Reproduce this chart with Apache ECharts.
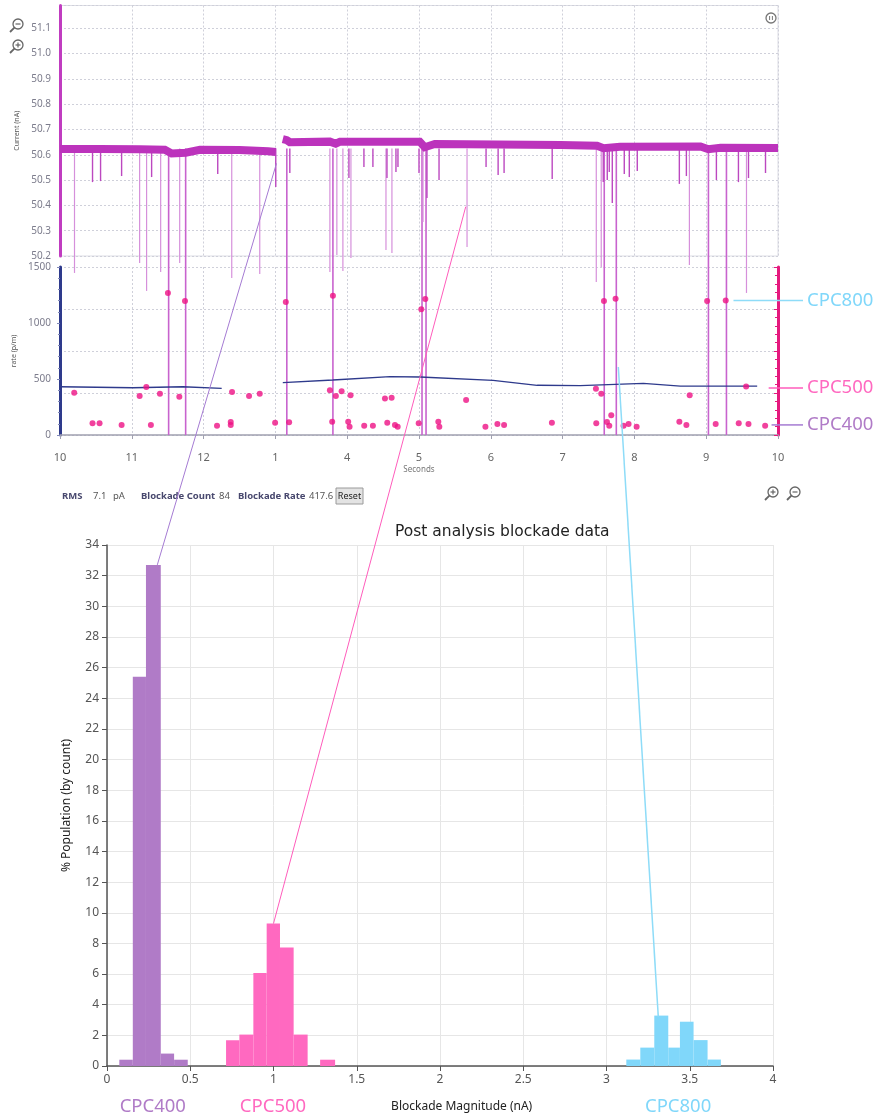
<!DOCTYPE html>
<html>
<head>
<meta charset="utf-8">
<script src="https://cdn.jsdelivr.net/npm/echarts/dist/echarts.min.js"></script>
<style>
  html, body { margin: 0; padding: 0; background: #fff; }
  #chart { width: 887px; height: 1119px; }
</style>
</head>
<body>
<div id="chart"></div>
<script>
// x axis of the trace / rate panels, labels as printed by the instrument
const timeLabels = ['10', '11', '12', '1', '4', '5', '6', '7', '8', '9', '10'];

// open-pore current (nA), null splits the two recordings
const baseTime = [0, 0.55, 1.11, 1.46, 1.555, 1.75, 1.95, 2.5, 2.9, 3.005, null,
  3.103, 3.159, 3.2, 3.76, 3.84, 3.9, 5.01, 5.08, 5.22, 6.97, 7.48, 7.57, 7.8, 8.92, 9.03, 9.2, 10];
const baseCurrent = [50.623, 50.623, 50.622, 50.62, 50.605, 50.608, 50.62, 50.619, 50.614, 50.611, null,
  50.662, 50.658, 50.65, 50.652, 50.644, 50.652, 50.652, 50.63, 50.643, 50.639, 50.636, 50.626, 50.632, 50.633, 50.622, 50.628, 50.627];

// blockade spikes: time and lowest current reached (nA)
const spikeTime = [0.202, 0.453, 0.565, 0.858, 1.109, 1.206, 1.276, 1.402, 1.667, 2.197, 2.392, 2.782, 3.005,
  3.201, 3.759, 3.856, 3.94, 4.024, 4.052, 4.233, 4.358, 4.54, 4.554, 4.623, 4.679, 4.707, 5.0, 5.056, 5.111,
  5.279, 5.669, 5.934, 6.102, 6.185, 6.855, 7.469, 7.538, 7.566, 7.622, 7.65, 7.692, 7.859, 7.929, 8.04,
  8.626, 8.724, 8.766, 9.142, 9.449, 9.561, 9.589, 9.826];
const spikeLow = [50.133, 50.492, 50.496, 50.516, 50.172, 50.062, 50.512, 50.137, 50.172, 50.524, 50.113, 50.129, 50.473,
  50.528, 50.137, 50.204, 50.141, 50.508, 50.192, 50.552, 50.552, 50.224, 50.508, 50.212, 50.532, 50.552, 50.528, 50.334, 50.429,
  50.5, 50.236, 50.552, 50.52, 50.528, 50.504, 50.097, 50.157, 50.492, 50.5, 50.532, 50.409, 50.524, 50.512, 50.536,
  50.485, 50.516, 50.164, 50.5, 50.492, 50.054, 50.508, 50.528];

// long events that run through both panels
const eventTime = [1.513, 1.75, 3.159, 3.801, 5.042, 5.098, 7.58, 7.748, 9.031, 9.282];

// rate panel (p/m)
const rateTime = [0.198, 0.453, 0.551, 0.858, 1.109, 1.202, 1.266, 1.392, 1.503, 1.662, 1.741, 2.187, 2.378, 2.378,
  2.396, 2.633, 2.782, 2.996, 3.145, 3.191, 3.759, 3.791, 3.801, 3.842, 3.922, 4.014, 4.033, 4.047, 4.237, 4.358,
  4.526, 4.558, 4.619, 4.665, 4.703, 4.996, 5.032, 5.088, 5.269, 5.283, 5.656, 5.925, 6.092, 6.185, 6.851, 7.464,
  7.469, 7.538, 7.576, 7.618, 7.65, 7.678, 7.738, 7.849, 7.919, 8.031, 8.626, 8.724, 8.77, 9.013, 9.132, 9.272,
  9.453, 9.556, 9.589, 9.821];
const rateValue = [378, 104, 104, 89, 348, 429, 89, 369, 1268, 342, 1196, 83, 116, 89,
  384, 348, 369, 110, 1187, 113, 399, 119, 1244, 348, 390, 119, 74, 354, 83, 83,
  327, 110, 333, 89, 74, 104, 1122, 1214, 119, 74, 312, 74, 98, 89, 110, 413,
  104, 369, 1196, 116, 83, 176, 1217, 83, 98, 74, 119, 89, 354, 1196, 98, 1202,
  104, 434, 98, 83];
const avgTime = [0, 1.016, 1.709, 2.252, null, 3.103, 3.801, 4.596, 5.014, 6.032, 6.646, 7.246, 8.124, 8.64, 9.71];
const avgRate = [431, 422, 431, 417, null, 467, 491, 521, 518, 488, 444, 440, 461, 437, 437];

// histogram: bin edges (nA) and % population per bin
const cpc400Edges = [0.074, 0.155, 0.234, 0.323, 0.403, 0.485];
const cpc400Pct = [0.41, 25.4, 32.7, 0.81, 0.41];
const cpc500Edges = [0.715, 0.795, 0.879, 0.959, 1.039, 1.121, 1.205, 1.28, 1.37];
const cpc500Pct = [1.68, 2.05, 6.07, 9.3, 7.73, 2.05, 0, 0.41];
const cpc800Edges = [3.119, 3.203, 3.287, 3.371, 3.441, 3.523, 3.607, 3.687];
const cpc800Pct = [0.42, 1.2, 3.29, 1.2, 2.89, 1.69, 0.42];

// annotation anchors
const peakAnchor = [[0.302, 32.7], [1.0, 9.3], [3.311, 3.22]];
const traceAnchor = [[3.015, 50.566], [5.651, 50.395]];
const rateAnchor = [7.776, 607];
const tagRate = [1200, 420, 90];
const tagStart = [9.38, 9.87, 9.91];
const groupCenter = [0.275, 0.997, 3.43];
const groupNames = ['CPC400', 'CPC500', 'CPC800'];

const TRACE_LEVEL = 50.625;
const GAP_LOW = 50.155;
const purple = '#B07BC7', pink = '#FF69C0', cyan = '#80D7FA';
const FONT = 'Noto Sans';

const chart = echarts.init(document.getElementById('chart'));

const pair = (xs, ys) => xs.map((x, i) => (x === null ? [null, null] : [x, ys[i]]));
const bins = (edges, pct) => pct.map((p, i) => [edges[i], edges[i + 1], p]);

function vline(p0, p1, color, w) {
  return { type: 'line', shape: { x1: p0[0], y1: p0[1], x2: p1[0], y2: p1[1] }, style: { stroke: color, lineWidth: w } };
}

function binRender(color) {
  return (params, api) => {
    const a = api.coord([api.value(0), api.value(2)]);
    const b = api.coord([api.value(1), 0]);
    return { type: 'rect', shape: { x: a[0], y: a[1], width: b[0] - a[0], height: b[1] - a[1] }, style: { fill: color } };
  };
}

const dotted = { lineStyle: { color: '#cfd0da', type: [2, 2], width: 1 } };

const option = {
  animation: false,
  textStyle: { fontFamily: FONT },
  title: {
    text: 'Post analysis blockade data',
    left: 390, top: 519,
    textStyle: { fontSize: 15.5, fontWeight: 'normal', color: '#222', fontFamily: 'DejaVu Sans' }
  },
  grid: [
    { left: 60, top: 5.5, width: 718, height: 250.5, show: true, borderColor: '#dcdde4', borderWidth: 1 },
    { left: 60, top: 267, width: 718, height: 168 },
    { left: 107, top: 545, width: 666, height: 521 }
  ],
  xAxis: [
    {
      gridIndex: 0, type: 'value', min: 0, max: 10, interval: 1,
      axisLine: { show: false }, axisTick: { show: false }, axisLabel: { show: false },
      splitLine: dotted
    },
    {
      gridIndex: 1, type: 'value', min: 0, max: 10, interval: 1, offset: 8,
      axisLine: { lineStyle: { color: '#a0a0b0', width: 1.5 } },
      axisTick: { show: true, length: 4, lineStyle: { color: '#a0a0b0' } },
      axisLabel: { color: '#666', fontSize: 11, margin: 9, formatter: v => timeLabels[Math.round(v)] },
      splitLine: dotted,
      name: 'Seconds', nameLocation: 'middle', nameGap: 23,
      nameTextStyle: { fontSize: 8, color: '#777' }
    },
    {
      gridIndex: 2, type: 'value', min: 0, max: 4, interval: 0.5,
      axisLine: { lineStyle: { color: '#555', width: 1.5 } },
      axisTick: { show: true, length: 5, lineStyle: { color: '#555' } },
      axisLabel: { color: '#555', fontSize: 12, margin: 8 },
      splitLine: { lineStyle: { color: '#e6e6e6' } }
    }
  ],
  yAxis: [
    {
      gridIndex: 0, type: 'value', min: 50.2, max: 51.19, interval: 0.1,
      axisLine: { show: true, lineStyle: { color: '#C03CC0', width: 3 } },
      axisTick: { show: false },
      axisLabel: { color: '#7c7c8c', fontSize: 10, margin: 9, showMaxLabel: false, formatter: v => v.toFixed(1) },
      splitLine: dotted,
      name: 'Current (nA)', nameLocation: 'middle', nameGap: 37,
      nameTextStyle: { fontSize: 7, color: '#555' }
    },
    {
      gridIndex: 1, type: 'value', min: 0, max: 1500, interval: 500,
      axisLine: { show: true, lineStyle: { color: '#2E3A8C', width: 3 } },
      axisTick: { show: true, length: 3, lineStyle: { color: '#8088b8' } },
      minorTick: { show: true, splitNumber: 5, length: 2, lineStyle: { color: '#8088b8' } },
      axisLabel: { color: '#7c7c8c', fontSize: 10, margin: 9, formatter: v => String(v) },
      splitLine: { show: false },
      name: 'rate (p/m)', nameLocation: 'middle', nameGap: 37,
      nameTextStyle: { fontSize: 7, color: '#555' }
    },
    {
      gridIndex: 1, type: 'value', position: 'right', min: 0, max: 1500, interval: 375,
      axisLine: { show: true, lineStyle: { color: '#E5197E', width: 3 } },
      axisTick: { show: true, inside: true, length: 4, lineStyle: { color: '#E5197E' } },
      minorTick: { show: true, splitNumber: 5, length: 3, lineStyle: { color: '#E5197E' } },
      axisLabel: { show: false },
      splitLine: dotted
    },
    {
      gridIndex: 2, type: 'value', min: 0, max: 34, interval: 2,
      axisLine: { show: true, lineStyle: { color: '#555', width: 1.5 } },
      axisTick: { show: true, length: 5, lineStyle: { color: '#555' } },
      axisLabel: { color: '#555', fontSize: 12, margin: 8 },
      splitLine: { lineStyle: { color: '#e6e6e6' } },
      name: '% Population (by count)', nameLocation: 'middle', nameGap: 34,
      nameTextStyle: { fontSize: 12, color: '#222' }
    }
  ],
  series: [
    {
      // 0: long events, upper part
      type: 'custom', xAxisIndex: 0, yAxisIndex: 0, clip: false, z: 2,
      data: eventTime.map(t => [t, GAP_LOW]),
      renderItem: (p, api) => vline(api.coord([api.value(0), TRACE_LEVEL]), api.coord([api.value(0), api.value(1)]), '#C863CE', 1.6)
    },
    {
      // 1: spikes
      type: 'custom', xAxisIndex: 0, yAxisIndex: 0, clip: false, z: 2,
      data: pair(spikeTime, spikeLow),
      renderItem: (p, api) => {
        const low = api.value(1);
        const deep = low < 50.4;
        return vline(api.coord([api.value(0), TRACE_LEVEL]), api.coord([api.value(0), low]),
          deep ? '#D690DB' : '#BC48C0', deep ? 1.2 : 1.4);
      }
    },
    {
      // 2: baseline current band
      type: 'line', xAxisIndex: 0, yAxisIndex: 0, z: 3,
      data: pair(baseTime, baseCurrent),
      showSymbol: false, connectNulls: false,
      lineStyle: { color: '#BC33BC', width: 8, join: 'miter' }
    },
    {
      // 3: long events, rate panel
      type: 'custom', xAxisIndex: 1, yAxisIndex: 1, z: 2,
      data: eventTime.map(t => [t, 1500]),
      renderItem: (p, api) => vline(api.coord([api.value(0), api.value(1)]), api.coord([api.value(0), 0]), '#C863CE', 1.6)
    },
    {
      // 4: rolling rate
      type: 'line', xAxisIndex: 1, yAxisIndex: 1, z: 3,
      data: pair(avgTime, avgRate),
      showSymbol: false, connectNulls: false,
      lineStyle: { color: '#2E3A8C', width: 1.3 }
    },
    {
      // 5: event rate points
      type: 'scatter', xAxisIndex: 1, yAxisIndex: 1, z: 4,
      data: pair(rateTime, rateValue),
      symbolSize: 6,
      itemStyle: { color: '#EE1285' }
    },
    {
      type: 'custom', xAxisIndex: 2, yAxisIndex: 3,
      data: bins(cpc400Edges, cpc400Pct), renderItem: binRender(purple)
    },
    {
      type: 'custom', xAxisIndex: 2, yAxisIndex: 3,
      data: bins(cpc500Edges, cpc500Pct), renderItem: binRender(pink)
    },
    {
      // 8
      type: 'custom', xAxisIndex: 2, yAxisIndex: 3,
      data: bins(cpc800Edges, cpc800Pct), renderItem: binRender(cyan)
    }
  ]
};

chart.setOption(option);

// annotations placed from the axes' own scales
const toTrace = pt => chart.convertToPixel({ seriesIndex: 2 }, pt);
const toRate = pt => chart.convertToPixel({ seriesIndex: 5 }, pt);
const toHist = pt => chart.convertToPixel({ seriesIndex: 8 }, pt);

const groupColors = [purple, pink, cyan];
const linkColors = ['#A57BD3', '#FF5CBB', '#8EDCF8'];
const graphics = [];

const ends = [toTrace(traceAnchor[0]), toTrace(traceAnchor[1]), toRate(rateAnchor)];
peakAnchor.forEach((pk, i) => {
  const a = toHist(pk);
  graphics.push({
    type: 'line', z: 100,
    shape: { x1: a[0], y1: a[1], x2: ends[i][0], y2: ends[i][1] },
    style: { stroke: linkColors[i], lineWidth: i === 2 ? 1.5 : 1 }
  });
});

// right-hand tags
const tagOrder = [2, 1, 0];
const rightEdge = toRate([10, 0])[0];
tagRate.forEach((r, i) => {
  const g = tagOrder[i];
  const s = toRate([tagStart[i], r]);
  graphics.push({
    type: 'line', z: 100,
    shape: { x1: s[0], y1: s[1], x2: rightEdge + 25, y2: s[1] },
    style: { stroke: linkColors[g], lineWidth: 1.5 }
  });
  graphics.push({
    type: 'text', z: 100, x: rightEdge + 29, y: s[1],
    style: { text: groupNames[g], fill: groupColors[g], font: '18.5px "' + FONT + '"', textVerticalAlign: 'middle' }
  });
});

// labels under the histogram
groupCenter.forEach((c, i) => {
  const p = toHist([c, 0]);
  graphics.push({
    type: 'text', x: p[0], y: p[1] + 41,
    style: { text: groupNames[i], fill: groupColors[i], font: '18.5px "' + FONT + '"', textAlign: 'center', textVerticalAlign: 'middle' }
  });
});
const xName = toHist([2.13, 0]);
graphics.push({
  type: 'text', x: xName[0], y: xName[1] + 41,
  style: { text: 'Blockade Magnitude (nA)', fill: '#222', font: '12px "' + FONT + '"', textAlign: 'center', textVerticalAlign: 'middle' }
});

// status row
const statusItems = [
  ['RMS', 62, true], ['7.1', 93, false], ['pA', 113, false],
  ['Blockade Count', 141, true], ['84', 219, false],
  ['Blockade Rate', 238, true], ['417.6', 309, false]
];
statusItems.forEach(([t, x, bold]) => {
  graphics.push({
    type: 'text', x: x, y: 496,
    style: { text: t, fill: bold ? '#48486e' : '#555', font: (bold ? 'bold ' : '') + '9.5px "' + FONT + '"', textVerticalAlign: 'middle' }
  });
});
graphics.push({
  type: 'rect', shape: { x: 336, y: 488, width: 27, height: 16 },
  style: { fill: '#e3e3e3', stroke: '#9a9a9a', lineWidth: 1 }
});
graphics.push({
  type: 'text', x: 349.5, y: 496,
  style: { text: 'Reset', fill: '#222', font: '9px "' + FONT + '"', textAlign: 'center', textVerticalAlign: 'middle' }
});

// magnifier icons
function magnifier(cx, cy, plus) {
  const kids = [
    { type: 'circle', shape: { cx: cx, cy: cy, r: 5 }, style: { fill: 'none', stroke: '#666', lineWidth: 1.3 } },
    { type: 'line', shape: { x1: cx - 3.6, y1: cy + 3.6, x2: cx - 8, y2: cy + 8 }, style: { stroke: '#666', lineWidth: 1.8 } },
    { type: 'line', shape: { x1: cx - 2.5, y1: cy, x2: cx + 2.5, y2: cy }, style: { stroke: '#666', lineWidth: 1.2 } }
  ];
  if (plus) kids.push({ type: 'line', shape: { x1: cx, y1: cy - 2.5, x2: cx, y2: cy + 2.5 }, style: { stroke: '#666', lineWidth: 1.2 } });
  return { type: 'group', children: kids };
}
graphics.push(magnifier(18, 24, false));
graphics.push(magnifier(18, 45, true));
graphics.push(magnifier(773, 492, true));
graphics.push(magnifier(795, 492, false));
graphics.push({
  type: 'group', children: [
    { type: 'circle', shape: { cx: 771, cy: 18, r: 5 }, style: { fill: '#fff', stroke: '#777', lineWidth: 1.3 } },
    { type: 'line', shape: { x1: 769.6, y1: 16, x2: 769.6, y2: 20 }, style: { stroke: '#777', lineWidth: 1 } },
    { type: 'line', shape: { x1: 772.4, y1: 16, x2: 772.4, y2: 20 }, style: { stroke: '#777', lineWidth: 1 } }
  ]
});

chart.setOption({ graphic: graphics });
</script>
</body>
</html>
